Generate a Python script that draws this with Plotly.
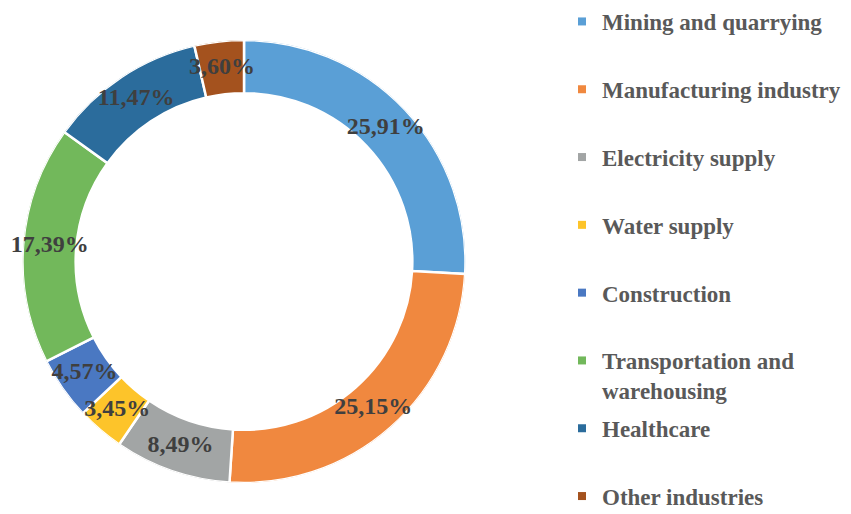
import numpy as np
import plotly.graph_objects as go

categories = ["Mining and quarrying", "Manufacturing industry", "Electricity supply",
              "Water supply", "Construction", "Transportation and<br>warehousing",
              "Healthcare", "Other industries"]
values = [25.91, 25.15, 8.49, 3.45, 4.57, 17.39, 11.47, 3.60]
colors = ["#5A9FD6", "#F0883F", "#A2A5A5", "#FDC42A", "#4A78C2", "#72B85B", "#2B6C9C", "#A4521E"]

labels_txt = [f"{v:.2f}".replace(".", ",") + "%" for v in values]

HOLE = 0.76
dom = dict(x=[22/851, 466/851], y=[31/514, 474/514])

vals = np.array(values)
share_deg = vals / vals.sum() * 360
mid_theta = np.cumsum(share_deg) - share_deg / 2

fig = go.Figure()
# donut ring drawn as polar bars
fig.add_trace(go.Barpolar(
    r=[1 - HOLE] * len(values), base=HOLE, theta=mid_theta, width=share_deg,
    marker=dict(color=colors, line=dict(color="white", width=2.5)),
    text=categories, hoverinfo="text", showlegend=False,
))
# slice labels at mid-ring
fig.add_trace(go.Scatterpolar(
    r=[(1 + HOLE) / 2] * len(values), theta=mid_theta, mode="text", text=labels_txt,
    textfont=dict(family="Liberation Serif", size=24, color="#3F3F3F", weight="bold"),
    showlegend=False, hoverinfo="skip",
))

for i, (name, c) in enumerate(zip(categories, colors)):
    nm = name if "<br>" in name else name + "<br> "
    fig.add_trace(go.Scatter(x=[None], y=[None], mode="markers", name=nm, legendgroup=f"g{i}",
                             marker=dict(symbol="square", size=8, color=c)))

fig.update_layout(
    width=851, height=514, margin=dict(l=0, r=0, t=0, b=0, autoexpand=False),
    paper_bgcolor="white", plot_bgcolor="white",
    xaxis=dict(visible=False), yaxis=dict(visible=False),
    polar=dict(domain=dom, bgcolor="rgba(0,0,0,0)", barmode="overlay",
               angularaxis=dict(rotation=90, direction="clockwise", visible=False),
               radialaxis=dict(range=[0, 1], visible=False)),
    legend=dict(x=562/851, xanchor="left", y=1.0, yanchor="top", valign="top",
                tracegroupgap=5.0, maxheight=1000,
                font=dict(family="Liberation Serif", size=23, color="#595959", weight="bold"),
                bgcolor="rgba(0,0,0,0)"),
)

fig.write_html("out.html", config={"displayModeBar": False},
               post_script="document.body.style.margin='0';")
